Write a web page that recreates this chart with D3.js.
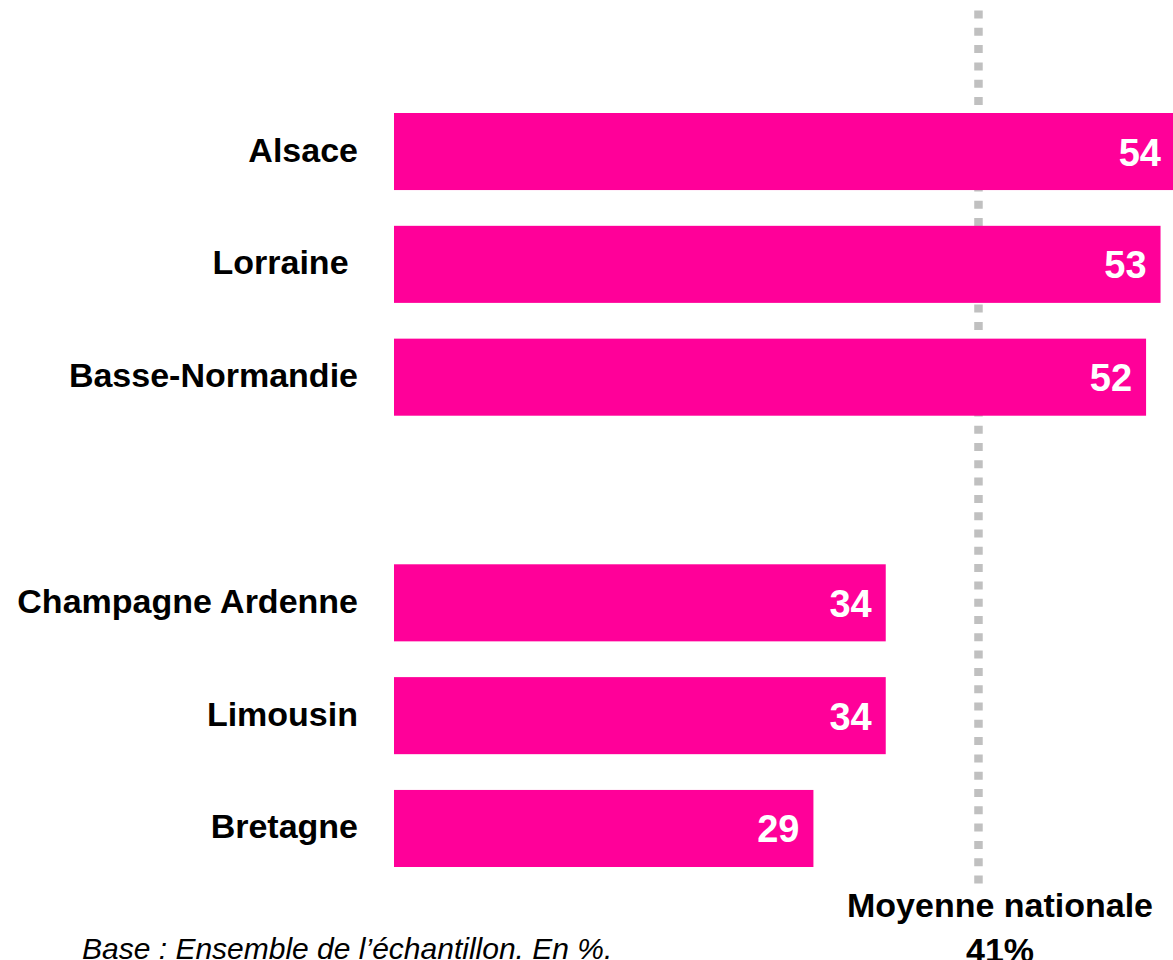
<!DOCTYPE html>
<html lang="fr">
<head>
	<meta charset="utf-8">
	<script src="https://cdn.jsdelivr.net/npm/d3@7/dist/d3.min.js"></script>
	<title>Moyenne nationale par région</title>
	<style>
		html, body { margin: 0; padding: 0; background: #fff; }
		svg { display: block; }
		text { font-family: "Liberation Sans", Arial, sans-serif; }
		.cat { font-size: 34px; font-weight: bold; fill: #000; white-space: pre; }
		.val { font-size: 38px; font-weight: bold; fill: #fff; }
		.avg { font-size: 34px; font-weight: bold; fill: #000; }
		.note { font-size: 30px; font-style: italic; fill: #000; }
	</style>
</head>
<body>
	<svg width="1173" height="960"></svg>
	<script>
	// données
	var regions = ["Alsace", "Lorraine ", "Basse-Normandie", "", "Champagne Ardenne", "Limousin", "Bretagne"];
	var valeurs = [54, 53, 52, null, 34, 34, 29];
	var moyenne = 41;
	var moyenneLabel = ["Moyenne nationale", "41%"];
	var note = "Base : Ensemble de l\u2019\u00e9chantillon. En %.";

	var svg = d3.select("svg");

	// échelles
	var x = d3.scaleLinear().domain([0, 54]).range([394, 1175]);
	var y = d3.scaleBand()
		.domain(regions)
		.range([113, 867])
		.paddingInner(0.317)
		.paddingOuter(0);

	var rows = regions.map(function(r, i) { return {name: r, value: valeurs[i]}; })
		.filter(function(d) { return d.value !== null; });

	// ligne pointillée de la moyenne (légèrement à gauche de x(41) dans l'original)
	var avgX = x(moyenne) - 8.5;
	svg.append("line")
		.attr("x1", avgX).attr("x2", avgX)
		.attr("y1", 10.5).attr("y2", 884)
		.attr("stroke", "#c0c0c0")
		.attr("stroke-width", 8.5)
		.attr("stroke-dasharray", "8,9.3");

	// barres
	svg.append("g")
		.selectAll("rect")
		.data(rows)
		.enter()
		.append("rect")
		.attr("x", x(0))
		.attr("y", function(d) { return y(d.name); })
		.attr("width", function(d) { return x(d.value) - x(0); })
		.attr("height", y.bandwidth())
		.attr("fill", "#ff0099");

	// valeurs dans les barres
	svg.append("g")
		.selectAll("text")
		.data(rows)
		.enter()
		.append("text")
		.attr("class", "val")
		.attr("text-anchor", "end")
		.attr("x", function(d) { return Math.min(x(d.value), 1175) - 14; })
		.attr("y", function(d) { return y(d.name) + y.bandwidth() / 2 + 14; })
		.text(function(d) { return d.value; });

	// noms des régions
	svg.append("g")
		.selectAll("text")
		.data(rows)
		.enter()
		.append("text")
		.attr("class", "cat")
		.attr("text-anchor", "end")
		.attr("x", 358)
		.attr("y", function(d) { return y(d.name) + y.bandwidth() / 2 + 10; })
		.text(function(d) { return d.name; });

	// libellé moyenne
	svg.append("g")
		.selectAll("text")
		.data(moyenneLabel)
		.enter()
		.append("text")
		.attr("class", "avg")
		.attr("text-anchor", "middle")
		.attr("x", 1000)
		.attr("y", function(d, i) { return 917 + i * 45; })
		.text(function(d) { return d; });

	// note de bas
	svg.append("text")
		.attr("class", "note")
		.attr("x", 82)
		.attr("y", 959)
		.text(note);
	</script>
</body>
</html>
